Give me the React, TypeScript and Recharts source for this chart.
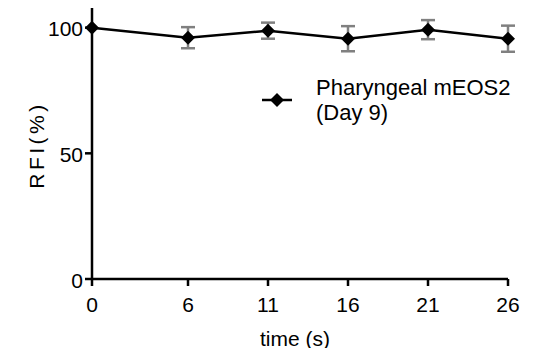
import { LineChart, Line, XAxis, YAxis, ErrorBar } from "recharts";

const times = [0, 6, 11, 16, 21, 26];
const rfi = [100, 96, 98.8, 95.6, 99.2, 95.6];
const rfiErr = [0, 4.2, 3.2, 5, 3.8, 5.2];
const xTicks = [0, 6, 11, 16, 21, 26];
const yTicks = [0, 50, 100];
const seriesName = "Pharyngeal mEOS2";
const seriesSub = "(Day 9)";

const data = times.map((t, i) => ({ t, rfi: rfi[i], err: rfiErr[i] }));

const FONT = "Arial, 'Liberation Sans', Helvetica, sans-serif";

function Diamond(props: any) {
  const { cx, cy } = props;
  if (cx == null || cy == null) return null;
  const r = 7;
  return (
    <path
      d={`M${cx},${cy - r} L${cx + r},${cy} L${cx},${cy + r} L${cx - r},${cy} Z`}
      fill="#000"
      stroke="none"
    />
  );
}

function XTick(props: any) {
  const { x, y, payload } = props;
  return (
    <text x={x} y={y + 16} textAnchor="middle" dominantBaseline="central" fontFamily={FONT} fontSize={21} fill="#000">
      {payload.value}
    </text>
  );
}

function YTick(props: any) {
  const { x, y, payload } = props;
  return (
    <text x={x} y={y + 1} textAnchor="end" dominantBaseline="central" fontFamily={FONT} fontSize={21} fill="#000">
      {payload.value}
    </text>
  );
}

function YLabel() {
  const cy = 145;
  const x = 36;
  return (
    <text
      x={x}
      y={cy}
      transform={`rotate(-90 ${x} ${cy})`}
      textAnchor="middle"
      dominantBaseline="central"
      fontFamily={FONT}
      fontSize={21}
      letterSpacing={3.5}
      fill="#000"
    >
      RFI(%)
    </text>
  );
}

function XLabel() {
  return (
    <text x={295} y={338} textAnchor="middle" dominantBaseline="central" fontFamily={FONT} fontSize={21} fill="#000">
      time (s)
    </text>
  );
}

function LegendBox() {
  return (
    <div
      style={{
        position: "absolute",
        left: 260,
        top: 75,
        display: "flex",
        alignItems: "center",
        fontFamily: FONT,
        fontSize: 22,
        color: "#000",
        whiteSpace: "nowrap",
      }}
    >
      <svg width={34} height={16} style={{ marginRight: 22 }}>
        <line x1={2} y1={8} x2={32} y2={8} stroke="#000" strokeWidth={2.5} />
        <path d="M17,1 L24,8 L17,15 L10,8 Z" fill="#000" />
      </svg>
      <div style={{ lineHeight: "25px" }}>
        {seriesName}
        <br />
        {seriesSub}
      </div>
    </div>
  );
}

export default function App() {
  return (
    <div style={{ margin: -8, width: 537, height: 356, background: "#fff", position: "relative" }}>
      <LineChart width={537} height={356} data={data} margin={{ top: 0, right: 29, bottom: 0, left: 0 }}>
        <XAxis
          dataKey="t"
          type="number"
          domain={[0, 26]}
          ticks={xTicks}
          interval={0}
          height={77}
          axisLine={{ stroke: "#000", strokeWidth: 2.5 }}
          tickLine={{ stroke: "#000", strokeWidth: 2.5 }}
          tickSize={7}
          tick={<XTick />}
          label={<XLabel />}
        />
        <YAxis
          type="number"
          domain={[0, 111]}
          ticks={yTicks}
          interval={0}
          width={92}
          axisLine={{ stroke: "#000", strokeWidth: 2.5 }}
          tickLine={{ stroke: "#000", strokeWidth: 2.5 }}
          tickSize={7}
          tickMargin={2}
          tick={<YTick />}
          label={<YLabel />}
        />
        <Line
          dataKey="rfi"
          type="linear"
          stroke="#000"
          strokeWidth={2.5}
          dot={<Diamond />}
          activeDot={false}
          isAnimationActive={false}
        >
          <ErrorBar dataKey="err" width={7} stroke="#808080" strokeWidth={2.5} direction="y" />
        </Line>
      </LineChart>
      <LegendBox />
    </div>
  );
}
